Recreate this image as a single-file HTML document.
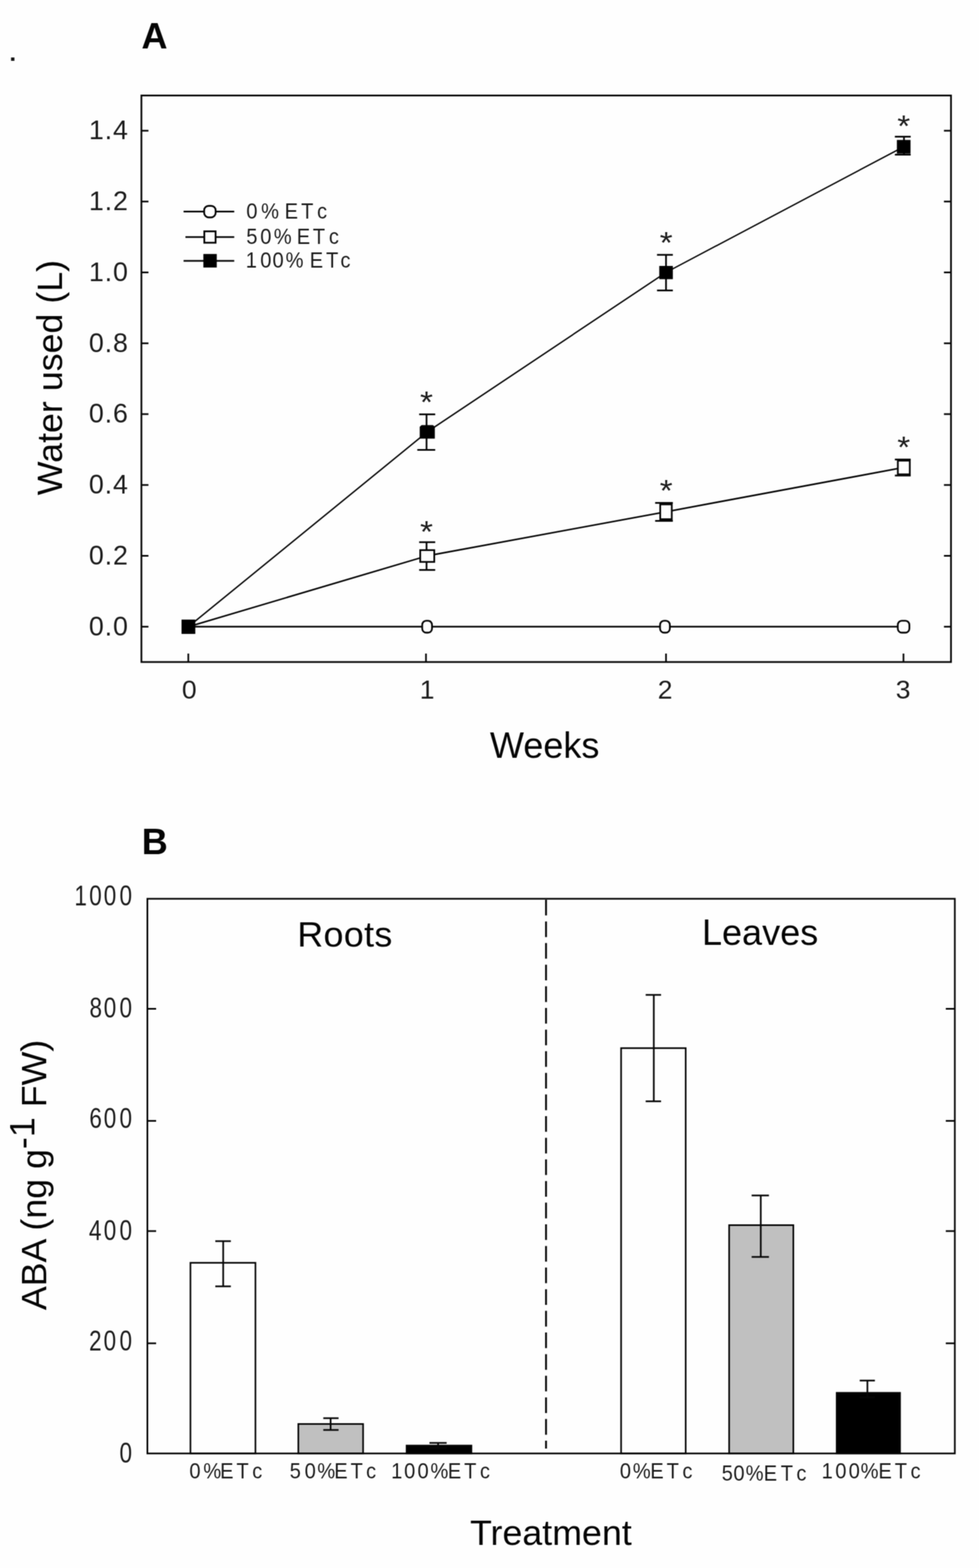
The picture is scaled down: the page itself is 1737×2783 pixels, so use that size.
<!DOCTYPE html>
<html lang="en">
<head>
<meta charset="utf-8">
<title>Water used and ABA content under 0%, 50% and 100% ETc</title>
<style>
html, body { margin: 0; padding: 0; background: #fefefe; }
body { width: 1737px; height: 2783px; }
svg { display: block; font-family: "Liberation Sans", Arial, Helvetica, sans-serif; }
.ln { stroke: #060606; stroke-linecap: butt; }
.tk { fill: #1c1c1c; }
.sm { fill: #1c1c1c; }
.big { fill: #050505; }
</style>
</head>
<body>
<svg width="1737" height="2783" viewBox="0 0 1737 2783">
<defs>
<filter id="soft" filterUnits="userSpaceOnUse" x="0" y="0" width="1737" height="2783" color-interpolation-filters="sRGB">
<feConvolveMatrix order="3" kernelMatrix="1 2 1 2 4 2 1 2 1" divisor="16" edgeMode="duplicate" preserveAlpha="true"/>
</filter>
</defs>
<g filter="url(#soft)">
<rect x="0" y="0" width="1737" height="2783" fill="#fefefe"/>
<!-- ============ Panel A : water used ============ -->
<g class="ln">
<rect x="250.9" y="169.5" width="1436.4" height="1005.5" fill="none" stroke-width="3.1"/>
<line x1="250.9" y1="1112.3" x2="263.4" y2="1112.3" stroke-width="3.0"/>
<line x1="1674.8" y1="1112.3" x2="1687.3" y2="1112.3" stroke-width="3.0"/>
<line x1="250.9" y1="986.5" x2="263.4" y2="986.5" stroke-width="3.0"/>
<line x1="1674.8" y1="986.5" x2="1687.3" y2="986.5" stroke-width="3.0"/>
<line x1="250.9" y1="860.8" x2="263.4" y2="860.8" stroke-width="3.0"/>
<line x1="1674.8" y1="860.8" x2="1687.3" y2="860.8" stroke-width="3.0"/>
<line x1="250.9" y1="735" x2="263.4" y2="735" stroke-width="3.0"/>
<line x1="1674.8" y1="735" x2="1687.3" y2="735" stroke-width="3.0"/>
<line x1="250.9" y1="609.3" x2="263.4" y2="609.3" stroke-width="3.0"/>
<line x1="1674.8" y1="609.3" x2="1687.3" y2="609.3" stroke-width="3.0"/>
<line x1="250.9" y1="483.5" x2="263.4" y2="483.5" stroke-width="3.0"/>
<line x1="1674.8" y1="483.5" x2="1687.3" y2="483.5" stroke-width="3.0"/>
<line x1="250.9" y1="357.7" x2="263.4" y2="357.7" stroke-width="3.0"/>
<line x1="1674.8" y1="357.7" x2="1687.3" y2="357.7" stroke-width="3.0"/>
<line x1="250.9" y1="232" x2="263.4" y2="232" stroke-width="3.0"/>
<line x1="1674.8" y1="232" x2="1687.3" y2="232" stroke-width="3.0"/>
<line x1="334.1" y1="1160" x2="334.1" y2="1175" stroke-width="3.0"/>
<line x1="755.8" y1="1160" x2="755.8" y2="1175" stroke-width="3.0"/>
<line x1="1181.7" y1="1160" x2="1181.7" y2="1175" stroke-width="3.0"/>
<line x1="1603" y1="1160" x2="1603" y2="1175" stroke-width="3.0"/>
</g>
<g class="tk" font-size="47.5" text-anchor="end" letter-spacing="1.6">
<text x="228.6" y="1127.7">0.0</text>
<text x="228.6" y="1001.9">0.2</text>
<text x="228.6" y="876.2">0.4</text>
<text x="228.6" y="750.4">0.6</text>
<text x="228.6" y="624.7">0.8</text>
<text x="228.6" y="498.9">1.0</text>
<text x="228.6" y="373.1">1.2</text>
<text x="228.6" y="247.4">1.4</text>
</g>
<g class="tk" font-size="47" text-anchor="middle">
<text x="335.9" y="1239.6">0</text>
<text x="757.9" y="1239.6">1</text>
<text x="1180" y="1239.6">2</text>
<text x="1602.2" y="1239.6">3</text>
</g>
<g class="ln" fill="none">
<polyline points="334.3,1112.3 758.1,1112.3 1181.7,1112.3 1603.6,1112.3" stroke-width="3"/>
<polyline points="334.3,1112.3 758.1,986.5 1181.7,908.3 1603.6,829.7" stroke-width="2.8"/>
<polyline points="334.3,1112.3 758.1,766.5 1181.7,483.5 1603.6,260.3" stroke-width="2.5"/>
</g>
<g class="ln">
<line x1="756.8" y1="735.4" x2="756.8" y2="798.5" stroke-width="3.1"/>
<line x1="743.7" y1="735.4" x2="772.2" y2="735.4" stroke-width="3.1"/>
<line x1="740.4" y1="798.5" x2="772.2" y2="798.5" stroke-width="3.1"/>
<line x1="1181.7" y1="452.3" x2="1181.7" y2="515.5" stroke-width="3.1"/>
<line x1="1165.7" y1="452.3" x2="1193.8" y2="452.3" stroke-width="3.1"/>
<line x1="1165.7" y1="515.5" x2="1193.8" y2="515.5" stroke-width="3.1"/>
<line x1="1603.9" y1="242.6" x2="1603.9" y2="274.5" stroke-width="3.1"/>
<line x1="1587.7" y1="242.6" x2="1615.8" y2="242.6" stroke-width="3.1"/>
<line x1="1587.7" y1="274.5" x2="1615.8" y2="274.5" stroke-width="3.1"/>
<line x1="756.8" y1="962.3" x2="756.8" y2="1011.6" stroke-width="3.1"/>
<line x1="743.7" y1="962.3" x2="772.2" y2="962.3" stroke-width="3.1"/>
<line x1="743.7" y1="1011.6" x2="772.2" y2="1011.6" stroke-width="3.1"/>
<line x1="1181.7" y1="892.6" x2="1181.7" y2="924.5" stroke-width="3.1"/>
<line x1="1162.4" y1="892.6" x2="1193.8" y2="892.6" stroke-width="3.1"/>
<line x1="1162.4" y1="924.5" x2="1193.8" y2="924.5" stroke-width="3.1"/>
<line x1="1603.9" y1="815.6" x2="1603.9" y2="844" stroke-width="3.1"/>
<line x1="1587.7" y1="815.6" x2="1615.8" y2="815.6" stroke-width="3.1"/>
<line x1="1587.7" y1="844" x2="1615.8" y2="844" stroke-width="3.1"/>
</g>
<g class="ln" fill="#fefefe" stroke-width="3.1">
<rect x="749.1" y="1101.7" width="17.4" height="21.2" rx="7" ry="7.5"/>
<rect x="1171.1" y="1101.7" width="17.4" height="21.2" rx="7" ry="7.5"/>
<rect x="1592.9" y="1101.7" width="20.6" height="21.2" rx="7" ry="7.5"/>
<rect x="745.6" y="976.4" width="24.9" height="20.9"/>
<rect x="1171.4" y="895.2" width="20.5" height="26.3"/>
<rect x="1593" y="817.6" width="21.2" height="24.3"/>
</g>
<g fill="#000">
<rect x="322.1" y="1099.7" width="24.4" height="25.4"/>
<rect x="1169.7" y="472" width="24.1" height="23.5"/>
<rect x="1591.3" y="248.4" width="24.2" height="24.2"/>
<path d="M744.7 778.5V757.6L748 754.4H768.2L771.5 757.6V778.5Z"/>
</g>
<g class="tk" font-size="53.5" text-anchor="middle" transform="scale(1.1 1)">
<text x="687.8" y="731.8">*</text>
<text x="687.8" y="962.4">*</text>
<text x="1074.5" y="448.8">*</text>
<text x="1074.5" y="888.8">*</text>
<text x="1457.7" y="242.4">*</text>
<text x="1457.7" y="812.1">*</text>
</g>
<g class="ln">
<line x1="325.7" y1="375.5" x2="415.6" y2="375.5" stroke-width="3"/>
<line x1="329" y1="420.8" x2="415.6" y2="420.8" stroke-width="3"/>
<line x1="325.7" y1="462.9" x2="415.6" y2="462.9" stroke-width="3"/>
<rect x="362.2" y="365.4" width="20.4" height="20.4" rx="8" ry="8" fill="#fefefe" stroke-width="3.2"/>
<rect x="362.5" y="410.6" width="20" height="20.2" fill="#fefefe" stroke-width="3.2"/>
<rect x="360.8" y="450.8" width="23.8" height="24" fill="#000" stroke="none"/>
</g>
<g class="sm" font-size="39.6" text-anchor="middle">
<text transform="scale(0.9 1)" x="496.6 532.2 545.6 574.2 605.7 634.9" y="387.6">0% ETc</text>
<text transform="scale(0.9 1)" x="496.6 524.1 557.2 570.6 598.1 628.8 658.3" y="432.8">50% ETc</text>
<text transform="scale(0.9 1)" x="495.4 524.1 548.3 580.7 594 623.9 655 680.9" y="474.6">100% ETc</text>
</g>
<g class="big">
<text x="251" y="86.4" font-size="64" font-weight="bold">A</text>
<text x="966.4" y="1344.8" font-size="64" text-anchor="middle">Weeks</text>
<text transform="translate(110.3 670.2) rotate(-90)" font-size="63.5" text-anchor="middle">Water used (L)</text>
</g>
<rect x="19.6" y="102" width="6" height="6" fill="#151515"/>
<!-- ============ Panel B : ABA content ============ -->
<g class="ln">
<rect x="337.9" y="2241.3" width="115.3" height="338.4" fill="#fefefe" stroke-width="2.9"/>
<rect x="529.3" y="2527.4" width="114.9" height="52.3" fill="#c0c0c0" stroke-width="2.9"/>
<rect x="721.4" y="2565.7" width="115" height="14" fill="#000" stroke-width="2.9"/>
<rect x="1102" y="1860.3" width="114.6" height="719.4" fill="#fefefe" stroke-width="2.9"/>
<rect x="1293.7" y="2174.5" width="113.9" height="405.2" fill="#c0c0c0" stroke-width="2.9"/>
<rect x="1484.5" y="2472.1" width="112.4" height="107.6" fill="#000" stroke-width="2.9"/>
<line x1="396" y1="2202.9" x2="396" y2="2283.1" stroke-width="3.0"/>
<line x1="382" y1="2202.9" x2="409.6" y2="2202.9" stroke-width="3.0"/>
<line x1="382" y1="2283.1" x2="409.6" y2="2283.1" stroke-width="3.0"/>
<line x1="586.6" y1="2517.1" x2="586.6" y2="2538" stroke-width="3.0"/>
<line x1="573.6" y1="2517.1" x2="600.7" y2="2517.1" stroke-width="3.0"/>
<line x1="573.6" y1="2538" x2="600.7" y2="2538" stroke-width="3.0"/>
<line x1="777.3" y1="2561" x2="777.3" y2="2570" stroke-width="3.0"/>
<line x1="762" y1="2561" x2="792.5" y2="2561" stroke-width="3.0"/>
<line x1="762" y1="2570" x2="792.5" y2="2570" stroke-width="3.0"/>
<line x1="1160" y1="1765.8" x2="1160" y2="1954.7" stroke-width="3.0"/>
<line x1="1145.6" y1="1765.8" x2="1172.9" y2="1765.8" stroke-width="3.0"/>
<line x1="1145.6" y1="1954.7" x2="1172.9" y2="1954.7" stroke-width="3.0"/>
<line x1="1349.8" y1="2121.8" x2="1349.8" y2="2230.9" stroke-width="3.0"/>
<line x1="1333.6" y1="2121.8" x2="1364.3" y2="2121.8" stroke-width="3.0"/>
<line x1="1333.6" y1="2230.9" x2="1364.3" y2="2230.9" stroke-width="3.0"/>
<line x1="1539" y1="2450.3" x2="1539" y2="2480" stroke-width="3.0"/>
<line x1="1525.4" y1="2450.3" x2="1552.3" y2="2450.3" stroke-width="3.0"/>
<line x1="1525.4" y1="2480" x2="1552.3" y2="2480" stroke-width="3.0"/>
<path d="M968.8 1597V1624.8M968.8 1635.4V2571" fill="none" stroke-width="3.3" stroke-dasharray="27.8 10.6"/>
<rect x="261.5" y="1595.2" width="1432.6" height="984.5" fill="none" stroke-width="3"/>
<line x1="261.5" y1="2384.2" x2="277" y2="2384.2" stroke-width="3.0"/>
<line x1="1678.1" y1="2384.2" x2="1694.1" y2="2384.2" stroke-width="3.0"/>
<line x1="261.5" y1="2185" x2="277" y2="2185" stroke-width="3.0"/>
<line x1="1678.1" y1="2185" x2="1694.1" y2="2185" stroke-width="3.0"/>
<line x1="261.5" y1="1989.4" x2="277" y2="1989.4" stroke-width="3.0"/>
<line x1="1678.1" y1="1989.4" x2="1694.1" y2="1989.4" stroke-width="3.0"/>
<line x1="261.5" y1="1790.5" x2="277" y2="1790.5" stroke-width="3.0"/>
<line x1="1678.1" y1="1790.5" x2="1694.1" y2="1790.5" stroke-width="3.0"/>
</g>
<g class="tk" font-size="50" text-anchor="middle">
<text transform="scale(0.8 1)" x="178.8 211.8 243.9 278.9" y="1606.8">1000</text>
<text transform="scale(0.8 1)" x="212.5 243.9 278.9" y="1806.2">800</text>
<text transform="scale(0.8 1)" x="212.1 243.9 278.9" y="2002">600</text>
<text transform="scale(0.8 1)" x="211 243.9 278.9" y="2201.4">400</text>
<text transform="scale(0.8 1)" x="211.5 243.6 279" y="2396.8">200</text>
<text transform="scale(0.8 1)" x="279" y="2595.6">0</text>
</g>
<g class="sm" font-size="39.6" text-anchor="middle">
<text transform="scale(0.9 1)" x="384.4 418.3 447 478.1 507.1" y="2623.6">0%ETc</text>
<text transform="scale(0.9 1)" x="582.1 611.6 643.2 672.1 703.2 731.7" y="2623.6">50%ETc</text>
<text transform="scale(0.9 1)" x="782.1 807.8 834.2 866.2 895.9 927.1 956" y="2623.6">100%ETc</text>
<text transform="scale(0.9 1)" x="1232.9 1265 1295.1 1326.4 1355.1" y="2623.8">0%ETc</text>
<text transform="scale(0.9 1)" x="1433.7 1456.9 1487.7 1518.7 1551.3 1580" y="2627.6">50%ETc</text>
<text transform="scale(0.9 1)" x="1630.7 1657.8 1684.1 1714.4 1744.8 1776 1804.9" y="2623.8">100%ETc</text>
</g>
<g class="big">
<text x="251.6" y="1516" font-size="64" font-weight="bold">B</text>
<text x="612" y="1680.2" font-size="63.6" text-anchor="middle" letter-spacing="0.6">Roots</text>
<text x="1348.6" y="1676.8" font-size="64" text-anchor="middle">Leaves</text>
<text x="977.4" y="2741.8" font-size="63.5" text-anchor="middle">Treatment</text>
<text transform="translate(81.6 2085.4) rotate(-90)" font-size="63.5" text-anchor="middle">ABA (ng g<tspan dy="-21">-1</tspan><tspan dy="21"> FW)</tspan></text>
</g>
</g>
</svg>
</body>
</html>
